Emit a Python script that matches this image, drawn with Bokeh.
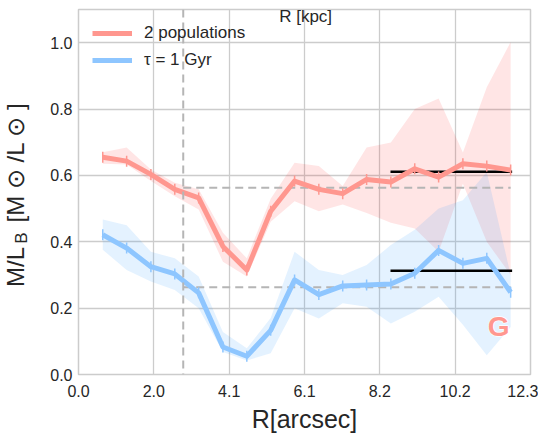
import numpy as np
from bokeh.plotting import figure
from bokeh.layouts import row, column
from bokeh.models import (Range1d, FixedTicker, Label, Span, Legend, LegendItem,
                          PrintfTickFormatter)
from bokeh.core.properties import value
from bokeh.embed import file_html
from bokeh.resources import INLINE

# ---------------- data ----------------
r_arcsec = [0.66, 1.31, 1.97, 2.62, 3.27, 3.93, 4.58, 5.23, 5.88,
            6.54, 7.19, 7.84, 8.50, 9.15, 9.80, 10.46, 11.11, 11.76]

ml_two_pop = [0.655, 0.643, 0.603, 0.558, 0.532, 0.386, 0.315, 0.492, 0.583,
              0.558, 0.545, 0.588, 0.580, 0.620, 0.595, 0.635, 0.628, 0.616]
ml_two_pop_hi = [0.670, 0.684, 0.618, 0.578, 0.558, 0.427, 0.350, 0.530, 0.638,
                 0.628, 0.568, 0.684, 0.699, 0.800, 0.832, 0.669, 0.866, 1.002]
ml_two_pop_lo = [0.635, 0.633, 0.583, 0.537, 0.497, 0.340, 0.295, 0.460, 0.522,
                 0.492, 0.512, 0.487, 0.457, 0.440, 0.370, 0.575, 0.400, 0.300]

ml_tau1 = [0.421, 0.381, 0.325, 0.303, 0.246, 0.083, 0.055, 0.133, 0.285,
           0.241, 0.267, 0.270, 0.273, 0.305, 0.374, 0.335, 0.350, 0.248]
ml_tau1_hi = [0.467, 0.450, 0.370, 0.350, 0.295, 0.128, 0.079, 0.170, 0.370,
              0.315, 0.300, 0.330, 0.390, 0.436, 0.500, 0.525, 0.610, 0.300]
ml_tau1_lo = [0.376, 0.315, 0.280, 0.255, 0.200, 0.068, 0.042, 0.064, 0.200,
              0.169, 0.215, 0.204, 0.154, 0.189, 0.234, 0.150, 0.058, 0.143]

r_eff = 2.85                       # vertical dashed marker [arcsec]
ml_ref_two_pop = 0.563             # horizontal dashed levels
ml_ref_tau1 = 0.263
outer_range = [8.49, 11.80]        # extent of the black outer-value segments
ml_outer_two_pop = 0.611
ml_outer_tau1 = 0.313

x_ticks = [0.0, 2.05, 4.1, 6.15, 8.2, 10.25, 12.3]
x_tick_labels = ["0.0", "2.0", "4.1", "6.1", "8.2", "10.2", "12.3"]
y_ticks = [0.0, 0.2, 0.4, 0.6, 0.8, 1.0]

RED = "#ff978f"
BLUE = "#8ec6ff"
TXT = "#262626"
FONT = "Liberation Sans"

TOTAL_W = 538
YLAB_W = 40          # width of the strip holding the y-axis title
MAIN_H = 404
XLAB_H = 30
BOTTOM = 30          # room under the frame for the tick labels

y_range = Range1d(0, 1.1)

# ---------------- main figure ----------------
p = figure(width=TOTAL_W - YLAB_W, height=MAIN_H, x_range=Range1d(0, 12.3), y_range=y_range,
           output_backend="svg", toolbar_location=None,
           min_border_left=78 - YLAB_W, min_border_right=8, min_border_top=9,
           min_border_bottom=BOTTOM)
p.background_fill_color = "white"
p.border_fill_color = "white"
p.outline_line_color = "#cccccc"
p.outline_line_width = 1.5

p.xaxis.ticker = FixedTicker(ticks=x_ticks)
p.xaxis.major_label_overrides = {t: l for t, l in zip(x_ticks, x_tick_labels)}
p.yaxis.ticker = FixedTicker(ticks=y_ticks)
p.yaxis.formatter = PrintfTickFormatter(format="%.1f")

for ax in (p.xaxis[0], p.yaxis[0]):
    ax.axis_line_color = None
    ax.major_tick_line_color = None
    ax.minor_tick_line_color = None
    ax.major_tick_out = 0
    ax.major_tick_in = 0
    ax.major_label_text_font_size = "16px"
    ax.major_label_text_color = TXT
    ax.major_label_text_font = FONT
    ax.major_label_standoff = 6
p.xaxis.major_label_standoff = 10

p.grid.grid_line_color = "#cccccc"
p.grid.grid_line_width = 1.3

# bands
p.varea(x=r_arcsec, y1=ml_two_pop_lo, y2=ml_two_pop_hi, fill_color="red", fill_alpha=0.1)
p.varea(x=r_arcsec, y1=ml_tau1_lo, y2=ml_tau1_hi, fill_color="dodgerblue", fill_alpha=0.12)

# reference lines
p.add_layout(Span(location=r_eff, dimension="height", line_color="#b5b5b5",
                  line_dash="8 5", line_width=2))
p.line([r_eff, r_arcsec[-1]], [ml_ref_two_pop, ml_ref_two_pop], line_color="#b5b5b5",
       line_dash="8 5", line_width=2)
p.line([r_eff, r_arcsec[-1]], [ml_ref_tau1, ml_ref_tau1], line_color="#b5b5b5",
       line_dash="8 5", line_width=2)
p.line(outer_range, [ml_outer_two_pop] * 2, line_color="black", line_width=2.5)
p.line(outer_range, [ml_outer_tau1] * 2, line_color="black", line_width=2.5)

# profiles
red_line = p.line(r_arcsec, ml_two_pop, line_color=RED, line_width=5, line_join="round")
red_marks = p.scatter(r_arcsec, ml_two_pop, marker="dash", angle=np.pi / 2, size=11,
                      line_color=RED, line_width=1.5)
blue_line = p.line(r_arcsec, ml_tau1, line_color=BLUE, line_width=5, line_join="round")
blue_marks = p.scatter(r_arcsec, ml_tau1, marker="dash", angle=np.pi / 2, size=11,
                       line_color=BLUE, line_width=1.5)

legend = Legend(items=[LegendItem(label="2 populations", renderers=[red_line, red_marks]),
                       LegendItem(label="τ = 1 Gyr", renderers=[blue_line, blue_marks])],
                location="top_left", border_line_color=None, background_fill_alpha=0,
                label_text_font_size="17px", label_text_color=TXT, label_text_font=FONT,
                glyph_width=40, glyph_height=20, label_standoff=12, spacing=7,
                padding=0, margin=14)
p.add_layout(legend)

p.add_layout(Label(x=6.18, y=1.079, text="R [kpc]", text_align="center",
                   text_baseline="middle", text_font_size="17px", text_color=TXT,
                   text_font=FONT))
# "G" with a white halo underneath
p.add_layout(Label(x=11.43, y=0.145, text="G", text_align="center", text_baseline="middle",
                   text_font_size="28px", text_font_style="bold", text_color="white",
                   text_outline_color="white", text_font=FONT))
p.add_layout(Label(x=11.43, y=0.145, text="G", text_align="center", text_baseline="middle",
                   text_font_size="28px", text_font_style="bold", text_color="#ff978f",
                   text_font=FONT))

# ---------------- y-axis title strip ----------------
py = figure(width=YLAB_W, height=MAIN_H, x_range=Range1d(0, YLAB_W), y_range=y_range,
            output_backend="svg", toolbar_location=None, x_axis_type=None, y_axis_type=None,
            min_border_left=0, min_border_right=0, min_border_top=9, min_border_bottom=BOTTOM)
py.outline_line_color = None
py.background_fill_color = "white"
py.border_fill_color = "white"
py.text(x=[15], y=[0.264], text=["M/L"], angle=np.pi / 2, text_align="left",
        text_baseline="middle", text_font_size="24px", text_color=TXT,
        text_font=value(FONT))
py.text(x=[21], y=[0.394], text=["B"], angle=np.pi / 2, text_align="left",
        text_baseline="middle", text_font_size="17px", text_color=TXT,
        text_font=value(FONT))
py.text(x=[15], y=[0.458], text=["[M ⊙ /L ⊙ ]"], angle=np.pi / 2, text_align="left",
        text_baseline="middle", text_font_size="24px", text_color=TXT,
        text_font=value(FONT))

# ---------------- x-axis title strip ----------------
px = figure(width=TOTAL_W, height=XLAB_H, x_range=Range1d(0, TOTAL_W),
            y_range=Range1d(0, XLAB_H),
            output_backend="svg", toolbar_location=None, x_axis_type=None, y_axis_type=None,
            min_border=0)
px.outline_line_color = None
px.background_fill_color = "white"
px.border_fill_color = "white"
px.text(x=[304], y=[16], text=["R[arcsec]"], text_align="center",
        text_baseline="middle", text_font_size="25px", text_color=TXT,
        text_font=value(FONT))

layout = column(row(py, p, spacing=0), px, spacing=0)

open("out.html", "w").write(file_html(layout, INLINE))
